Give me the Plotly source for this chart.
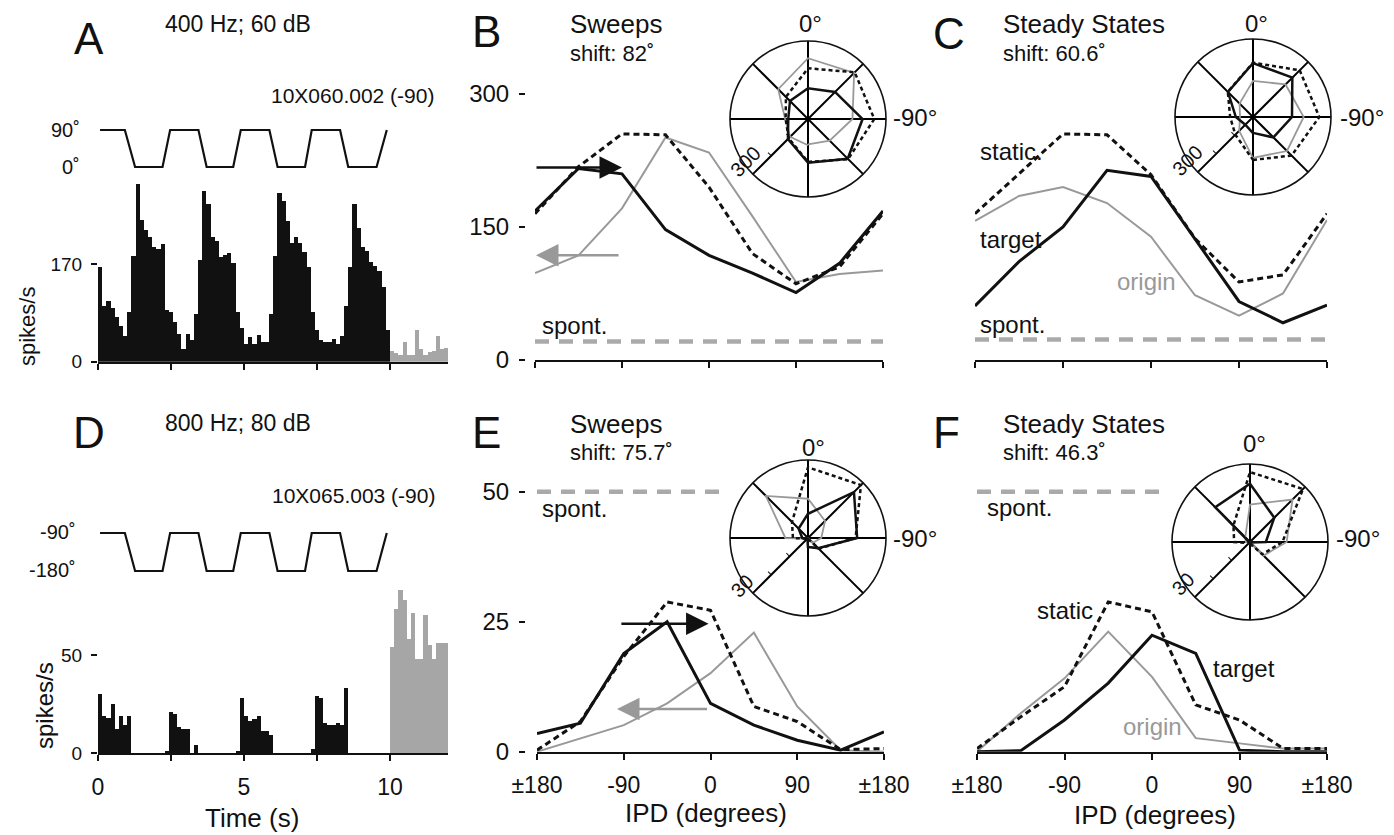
import numpy as np
import plotly.graph_objects as go

# page body has an 8px margin: the figure is drawn 8px smaller and all
# layout positions below are given in window pixels
OFF = 8
W, H = 1394 - OFF, 835 - OFF
FONT = "Liberation Sans, Arial, Helvetica, sans-serif"
BLACK = "#111111"
GRAY = "#999999"
SPONT = "#aaaaaa"
BARGRAY = "#a6a6a6"

# ---------------- data ----------------
# IPD tuning curves (spikes/s) at 45 deg steps
ipd = [-180, -135, -90, -45, 0, 45, 90, 135, 180]
ipd_ticks = [-180, -90, 0, 90, 180]
ipd_ticktext = ["\u00b1180", "-90", "0", "90", "\u00b1180"]

B_target = [168, 216, 210, 147, 118, 98, 76, 109, 168]
B_static = [165, 218, 255, 254, 195, 120, 86, 105, 165]
B_origin = [98, 118, 171, 251, 234, 162, 88, 97, 101]
B_spont = [21, 21]
B_spont_x = [-180, 180]
B_arrow_target = [-180, -90, 217]   # tail x, head x, y
B_arrow_origin = [-92, -179, 118]

C_target = [61, 111, 150, 214, 207, 136, 66, 42, 62]
C_static = [165, 210, 255, 254, 209, 137, 88, 96, 165]
C_origin = [157, 185, 195, 177, 139, 73, 50, 75, 158]
C_spont = [23, 23]
C_spont_x = [-180, 180]

E_target = [3.5, 5.5, 18.9, 25, 9.3, 5.1, 2.2, 0.3, 3.8]
E_static = [0.3, 5.8, 18.3, 28.8, 27.2, 8.7, 5.8, 0.4, 0.6]
E_origin = [0, 2.6, 5.1, 9.3, 15.1, 22.9, 8.7, 0.3, 0]
E_spont = [50, 50]
E_spont_x = [-180, 12]
E_arrow_target = [-94, -2, 24.6]
E_arrow_origin = [-2, -97, 8.2]

F_target = [0, 0.2, 6.1, 13.2, 22.4, 18.9, 0.3, 0, 0]
F_static = [0.6, 6.7, 12.5, 28.8, 26.9, 9, 6.1, 0.6, 0.6]
F_origin = [0, 7.4, 14.1, 23.1, 14.4, 2.6, 1.6, 0.6, 0.6]
F_spont = [50, 50]
F_spont_x = [-180, 12]

# PSTHs (spikes/s), bins of 1/7 s
bin_w = 1 / 7
A_black = [165, 98, 107, 94, 78, 62, 46, 87, 185,
           310, 247, 230, 217, 200, 197, 205,
           90, 87, 69, 49, 23, 49, 38, 84, 177,
           298, 275, 217, 211, 182, 186, 190, 172,
           87, 60, 32, 43, 32, 48, 35, 35, 84, 185,
           295, 280, 246, 208, 217, 208, 191, 165,
           87, 55, 38, 35, 35, 40, 32, 45, 98, 165,
           275, 234, 200, 194, 174, 168, 159, 130, 55]
A_gray = [20, 16, 12, 35, 12, 12, 55, 23, 12, 17, 20, 45, 23, 25]
D_black = [30, 19, 18, 25, 12, 19, 14, 19,
           0, 0, 0, 0, 0, 0, 0, 0,
           1, 21, 20, 13, 12, 12, 0, 4,
           0, 0, 0, 0, 0, 0, 0, 0, 0,
           1, 28, 19, 16, 17, 19, 11, 11, 9,
           0, 0, 0, 0, 0, 0, 0, 0, 0,
           2, 29, 28, 15, 14, 14, 15, 14, 33,
           0, 0, 0, 0, 0, 0, 0, 0, 0, 0]
D_gray = [54, 73, 83, 78, 58, 71, 48, 48, 70, 55, 48, 56, 56, 56]

# stimulus IPD waveform
wave_t = [0.07, 0.92, 1.27, 2.21, 2.47, 3.44, 3.72, 4.63, 4.89,
          5.87, 6.15, 7.09, 7.32, 8.29, 8.57, 9.54, 9.89]
A_wave = [90, 90, 0, 0, 90, 90, 0, 0, 90, 90, 0, 0, 90, 90, 0, 0, 90]
D_wave = [-90, -90, -180, -180, -90, -90, -180, -180, -90,
          -90, -180, -180, -90, -90, -180, -180, -90]
time_ticks = [0, 2.5, 5, 7.5, 10]
time_ticktext = ["0", "", "5", "", "10"]


def fx(px):
    return (px - OFF) / W


def fy(py):
    return 1 - (py - OFF) / H


fig = go.Figure()

t_black = (np.arange(len(A_black)) + 0.5) * bin_w
t_gray = 10 + (np.arange(len(A_gray)) + 0.5) * bin_w

# ---- A ----
fig.add_bar(x=t_black, y=A_black, width=bin_w, marker=dict(color=BLACK, line=dict(width=0)),
            xaxis="x", yaxis="y")
fig.add_bar(x=t_gray, y=A_gray, width=bin_w, marker=dict(color=BARGRAY, line=dict(width=0)),
            xaxis="x", yaxis="y")
fig.add_scatter(x=wave_t, y=A_wave, mode="lines", line=dict(color=BLACK, width=2.2),
                xaxis="x2", yaxis="y2")
# ---- D ----
fig.add_bar(x=t_black, y=D_black, width=bin_w, marker=dict(color=BLACK, line=dict(width=0)),
            xaxis="x3", yaxis="y3")
fig.add_bar(x=t_gray, y=D_gray, width=bin_w, marker=dict(color=BARGRAY, line=dict(width=0)),
            xaxis="x3", yaxis="y3")
fig.add_scatter(x=wave_t, y=D_wave, mode="lines", line=dict(color=BLACK, width=2.2),
                xaxis="x4", yaxis="y4")


def tuning(xa, ya, origin, static, target, spont, spont_x):
    fig.add_scatter(x=spont_x, y=spont, mode="lines",
                    line=dict(color=SPONT, width=4.5, dash="14px,10px"), xaxis=xa, yaxis=ya)
    fig.add_scatter(x=ipd, y=origin, mode="lines", line=dict(color=GRAY, width=2),
                    xaxis=xa, yaxis=ya)
    fig.add_scatter(x=ipd, y=static, mode="lines", line=dict(color=BLACK, width=3, dash="6px,4px"),
                    xaxis=xa, yaxis=ya)
    fig.add_scatter(x=ipd, y=target, mode="lines", line=dict(color=BLACK, width=3),
                    xaxis=xa, yaxis=ya)


tuning("x5", "y5", B_origin, B_static, B_target, B_spont, B_spont_x)
tuning("x6", "y6", C_origin, C_static, C_target, C_spont, C_spont_x)
tuning("x7", "y7", E_origin, E_static, E_target, E_spont, E_spont_x)
tuning("x8", "y8", F_origin, F_static, F_target, F_spont, F_spont_x)


def polar_traces(sub, origin, static, target):
    fig.add_scatterpolar(r=origin, theta=ipd, mode="lines", line=dict(color=GRAY, width=1.8), subplot=sub)
    fig.add_scatterpolar(r=static, theta=ipd, mode="lines",
                         line=dict(color=BLACK, width=2.5, dash="4px,3px"), subplot=sub)
    fig.add_scatterpolar(r=target, theta=ipd, mode="lines", line=dict(color=BLACK, width=2.5), subplot=sub)


polar_traces("polar", B_origin, B_static, B_target)
polar_traces("polar2", C_origin, C_static, C_target)
polar_traces("polar3", E_origin, E_static, E_target)
polar_traces("polar4", F_origin, F_static, F_target)

# ---------------- axes ----------------
hidden = dict(visible=False, showgrid=False, zeroline=False)


def xbase(dom, rng, anchor, tickvals, ticktext=None, labels=False):
    d = dict(domain=[fx(dom[0]), fx(dom[1])], range=rng, anchor=anchor, showgrid=False, zeroline=False,
             showline=True, linecolor=BLACK, linewidth=2, ticks="outside", tickvals=tickvals,
             ticklen=6, tickwidth=2, tickcolor=BLACK, showticklabels=labels, automargin=False,
             tickfont=dict(family=FONT, size=23, color=BLACK), ticklabelstandoff=6)
    if ticktext is not None:
        d["ticktext"] = ticktext
    return d


def ybase(dom, rng, anchor, tickvals, size, position=None, show=True):
    d = dict(domain=[fy(dom[1]), fy(dom[0])], range=rng, showgrid=False, zeroline=False,
             showline=False, ticks="outside" if show else "", tickvals=tickvals, ticklen=6, tickwidth=2,
             tickcolor=BLACK, showticklabels=show, tickfont=dict(family=FONT, size=size, color=BLACK),
             ticklabelstandoff=5, automargin=False)
    if position is None:
        d["anchor"] = anchor
    else:
        d["anchor"] = "free"
        d["position"] = fx(position)
    return d


layout = dict(
    width=W, height=H, autosize=False,
    margin=dict(l=0, r=0, t=0, b=0, pad=0, autoexpand=False),
    paper_bgcolor="white", plot_bgcolor="rgba(0,0,0,0)", showlegend=False, bargap=0,
    font=dict(family=FONT, color=BLACK),
    xaxis=xbase((98, 448.4), [0, 12], "y", time_ticks),
    yaxis=ybase((176.6, 361.7), [0, 322], "x", [0, 170], 19),
    xaxis2=dict(domain=[fx(98), fx(448.4)], range=[0, 12], anchor="y2", **hidden),
    yaxis2=dict(domain=[fy(177), fy(120)], range=[-24.3, 114.3], anchor="x2", **hidden),
    xaxis3=xbase((98, 448.4), [0, 12], "y3", time_ticks, time_ticktext, labels=True),
    yaxis3=ybase((576.4, 753.3), [0, 90], "x3", [0, 50], 19),
    xaxis4=dict(domain=[fx(98), fx(448.4)], range=[0, 12], anchor="y4", **hidden),
    yaxis4=dict(domain=[fy(581), fy(523)], range=[-203.7, -66.3], anchor="x4", **hidden),
    xaxis5=xbase((535, 883), [-180, 180], "y5", ipd_ticks),
    yaxis5=ybase((94, 360), [0, 300], None, [0, 150, 300], 24, position=525),
    xaxis6=xbase((975, 1327), [-180, 180], "y6", ipd_ticks),
    yaxis6=ybase((94, 360), [0, 300], "x6", [], 24, show=False),
    xaxis7=xbase((537, 884), [-180, 180], "y7", ipd_ticks, ipd_ticktext, labels=True),
    yaxis7=ybase((481.3, 751.7), [0, 52], None, [0, 25, 50], 24, position=525),
    xaxis8=xbase((977, 1327), [-180, 180], "y8", ipd_ticks, ipd_ticktext, labels=True),
    yaxis8=ybase((481.3, 751.7), [0, 52], "x8", [], 24, show=False),
)


def polar_def(cx, cy, rmax, ticks, R=78):
    return dict(
        domain=dict(x=[fx(cx - R), fx(cx + R)], y=[fy(cy + R), fy(cy - R)]),
        bgcolor="rgba(0,0,0,0)",
        angularaxis=dict(rotation=90, direction="counterclockwise", tickmode="linear", tick0=0, dtick=45,
                         showticklabels=False, ticks="", showgrid=True, gridcolor="#000000", gridwidth=1.5,
                         showline=True, linecolor=BLACK, linewidth=1.6, layer="below traces"),
        radialaxis=dict(range=[0, rmax], showgrid=False, showline=False, angle=225, tickmode="array",
                        tickvals=ticks, showticklabels=False, ticks="outside", ticklen=4,
                        tickcolor=BLACK, tickwidth=1),
    )


layout["polar"] = polar_def(808, 119, 300, [100, 200])
layout["polar2"] = polar_def(1253, 117, 300, [100, 200])
layout["polar3"] = polar_def(808, 538, 30, [10, 20])
layout["polar4"] = polar_def(1250, 542, 30, [10, 20])

fig.update_layout(**layout)


# ---------------- text ----------------
def txt(text, x, y, size, anchor="center", color=BLACK, angle=0):
    fig.add_annotation(text=text, x=fx(x), y=fy(y), xref="paper", yref="paper", showarrow=False,
                       xanchor=anchor, yanchor="middle", textangle=angle,
                       font=dict(family=FONT, size=size, color=color))


LET = 44
txt("A", 89, 38, LET)
txt("B", 486, 32, LET)
txt("C", 949, 33, LET)
txt("D", 89, 432, LET)
txt("E", 486, 432, LET)
txt("F", 946, 432, LET)

txt("400 Hz; 60 dB", 238, 24, 23)
txt("10X060.002 (-90)", 352, 96, 21)
txt("90\u02da", 82, 130, 20, anchor="right")
txt("0\u02da", 82, 167, 20, anchor="right")
txt("spikes/s", 28, 327, 22, angle=-90)

txt("800 Hz; 80 dB", 238, 423, 23)
txt("10X065.003 (-90)", 353, 495, 21)
txt("-90\u02da", 78, 532, 20, anchor="right")
txt("-180\u02da", 78, 570, 20, anchor="right")
txt("spikes/s", 44, 706, 24, angle=-90)
txt("Time (s)", 252, 818, 26)

txt("Sweeps", 568, 24, 26, anchor="left")
txt("shift: 82\u02da", 568, 54, 22, anchor="left")
txt("Steady States", 1001, 24, 26, anchor="left")
txt("shift: 60.6\u02da", 1001, 53, 22, anchor="left")
txt("Sweeps", 568, 424, 26, anchor="left")
txt("shift: 75.7\u02da", 568, 452, 22, anchor="left")
txt("Steady States", 1001, 424, 26, anchor="left")
txt("shift: 46.3\u02da", 1001, 452, 22, anchor="left")

txt("spont.", 540, 325, 24, anchor="left")
txt("static.", 978, 151, 24, anchor="left")
txt("target", 978, 239, 24, anchor="left")
txt("origin", 1115, 281, 24, anchor="left", color=GRAY)
txt("spont.", 978, 324, 24, anchor="left")

txt("spont.", 540, 508, 24, anchor="left")
txt("spont.", 985, 507, 24, anchor="left")
txt("static", 1035, 610, 24, anchor="left")
txt("target", 1211, 668, 24, anchor="left")
txt("origin", 1121, 726, 24, anchor="left", color=GRAY)

txt("IPD (degrees)", 706, 813, 26)
txt("IPD (degrees)", 1155, 815, 26)

# polar labels
txt("0\u00b0", 810, 24, 24)
txt("-90\u00b0", 915, 118, 24)
txt("300", 745, 162, 20, angle=-45)
txt("0\u00b0", 1256, 24, 24)
txt("-90\u00b0", 1362, 118, 24)
txt("300", 1187, 161, 20, angle=-45)
txt("0\u00b0", 813, 447, 24)
txt("-90\u00b0", 915, 538, 24)
txt("30", 742, 586, 20, angle=-45)
txt("0\u00b0", 1254, 444, 24)
txt("-90\u00b0", 1358, 538, 24)
txt("30", 1183, 584, 20, angle=-45)


# arrows
def arrow(xa, ya, spec, color):
    tail, head, y = spec
    fig.add_annotation(x=head, y=y, ax=tail, ay=y, xref=xa, yref=ya, axref=xa, ayref=ya,
                       showarrow=True, arrowhead=2, arrowsize=1.8, arrowwidth=2.5,
                       arrowcolor=color, text="")


arrow("x5", "y5", B_arrow_target, BLACK)
arrow("x5", "y5", B_arrow_origin, GRAY)
arrow("x7", "y7", E_arrow_target, BLACK)
arrow("x7", "y7", E_arrow_origin, GRAY)

fig.write_html("out.html")
